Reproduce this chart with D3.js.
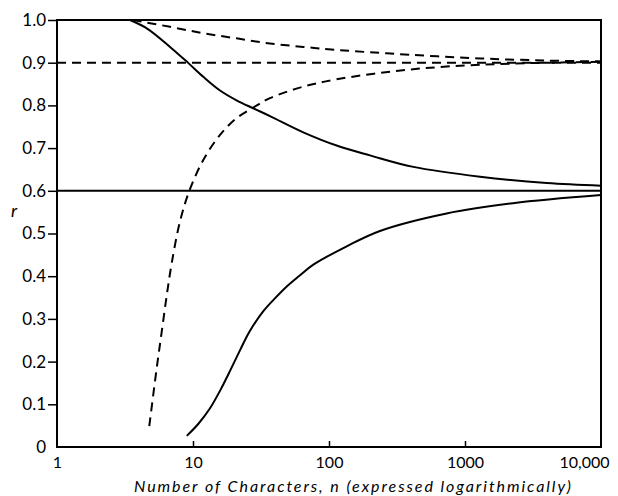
<!DOCTYPE html>
<html><head><meta charset="utf-8">
<script src="https://cdn.jsdelivr.net/npm/d3@7/dist/d3.min.js"></script>
<style>body{margin:0;background:#fff}svg{display:block}text{font-family:Lato,"Open Sans",sans-serif;fill:#000}</style>
</head><body><svg id="c" width="618" height="496"></svg>
<script>
// Data
const yTicks = [0, 0.1, 0.2, 0.3, 0.4, 0.5, 0.6, 0.7, 0.8, 0.9, 1.0];
const yTickLabels = ["0", "0.1", "0.2", "0.3", "0.4", "0.5", "0.6", "0.7", "0.8", "0.9", "1.0"];
const xTicks = [1, 10, 100, 1000, 10000];
const xTickLabels = ["1", "10", "100", "1000", "10,000"];

const solidUpperN = [3.44, 4.6, 6.78, 9.25, 11.9, 15.8, 20.9, 27.8, 36.8, 64.7, 113.8, 200, 417, 1290, 3990, 10000];
const solidUpperR = [1.0, 0.98, 0.937, 0.899, 0.867, 0.835, 0.812, 0.793, 0.775, 0.737, 0.706, 0.683, 0.656, 0.633, 0.618, 0.612];
const solidLowerN = [9.0, 11, 13.3, 16, 18.5, 22.2, 26, 32.9, 40, 48.9, 60, 76.7, 135, 237, 733, 2256, 10000];
const solidLowerR = [0.026, 0.055, 0.090, 0.135, 0.175, 0.227, 0.270, 0.318, 0.348, 0.376, 0.400, 0.427, 0.470, 0.506, 0.547, 0.571, 0.590];
const dashedUpperN = [3.6, 6.78, 11.9, 20.9, 36.8, 64.7, 113.8, 265, 1290, 3990, 10000];
const dashedUpperR = [1.0, 0.984, 0.969, 0.957, 0.945, 0.937, 0.930, 0.922, 0.910, 0.905, 0.903];
const dashedLowerN = [4.77, 5.41, 5.89, 6.41, 6.97, 8.02, 9.4, 11.9, 15.8, 20.9, 27.8, 36.8, 64.7, 113.8, 281, 733, 2256, 10000];
const dashedLowerR = [0.049, 0.185, 0.27, 0.355, 0.43, 0.528, 0.600, 0.672, 0.731, 0.770, 0.795, 0.817, 0.844, 0.861, 0.879, 0.891, 0.898, 0.902];
const solidLevelN = [1, 10000];
const solidLevelR = [0.6, 0.6];
const dashedLevelN = [1, 10000];
const dashedLevelR = [0.9, 0.9];

const svg = d3.select("#c");
const L = 57, R = 601, T = 20, B = 447;
const x = d3.scaleLog().domain([1, 10000]).range([L, R]);
const y = d3.scaleLinear().domain([0, 1]).range([B, T]);

const zip = (ns, rs) => ns.map((n, i) => [n, rs[i]]);
const line = d3.line().x(d => x(d[0])).y(d => y(d[1])).curve(d3.curveCatmullRom.alpha(0.5));

const series = [
  {d: zip(solidLevelN, solidLevelR), dash: null},
  {d: zip(dashedLevelN, dashedLevelR), dash: "9,6"},
  {d: zip(solidUpperN, solidUpperR), dash: null},
  {d: zip(solidLowerN, solidLowerR), dash: null},
  {d: zip(dashedUpperN, dashedUpperR), dash: "9,6"},
  {d: zip(dashedLowerN, dashedLowerR), dash: "9,6"}
];
series.forEach(s => {
  svg.append("path").attr("d", line(s.d)).attr("fill", "none")
    .attr("stroke", "#000").attr("stroke-width", 2)
    .attr("stroke-dasharray", s.dash);
});

// frame
svg.append("rect").attr("x", L).attr("y", T).attr("width", R - L).attr("height", B - T)
  .attr("fill", "none").attr("stroke", "#000").attr("stroke-width", 2);

// y axis
const yAxis = d3.axisLeft(y).tickValues(yTicks).tickSize(9).tickPadding(2)
  .tickFormat((d, i) => yTickLabels[i]);
const gy = svg.append("g").attr("transform", `translate(${L},0)`).call(yAxis);
gy.select(".domain").remove();
gy.selectAll("line").attr("stroke", "#000").attr("stroke-width", 1.5);
gy.selectAll("text").style("font-size", "17px").attr("fill", "#000");
gy.selectAll(".tick").filter(d => d === 0).select("line").remove();

// x axis
const xAxis = d3.axisBottom(x).tickValues(xTicks).tickSize(-6).tickPadding(10)
  .tickFormat((d, i) => xTickLabels[i]);
const gx = svg.append("g").attr("transform", `translate(0,${B})`).call(xAxis);
gx.select(".domain").remove();
gx.selectAll("line").attr("stroke", "#000").attr("stroke-width", 1.5);
gx.selectAll(".tick").filter(d => d === 1 || d === 10000).select("line").remove();
gx.selectAll("text").style("font-size", "16px").attr("fill", "#000");
gx.selectAll(".tick").filter(d => d === 10000).select("text")
  .attr("text-anchor", "end").attr("dx", 8);

// titles
svg.append("text").attr("x", 134).attr("y", 492)
  .attr("textLength", 437).attr("lengthAdjust", "spacing")
  .style("font-size", "16px").style("font-style", "italic")
  .text("Number of Characters, n (expressed logarithmically)");
svg.append("text").attr("x", 14).attr("y", 217).attr("text-anchor", "middle")
  .style("font-size", "18px").style("font-style", "italic").text("r");
</script></body></html>
